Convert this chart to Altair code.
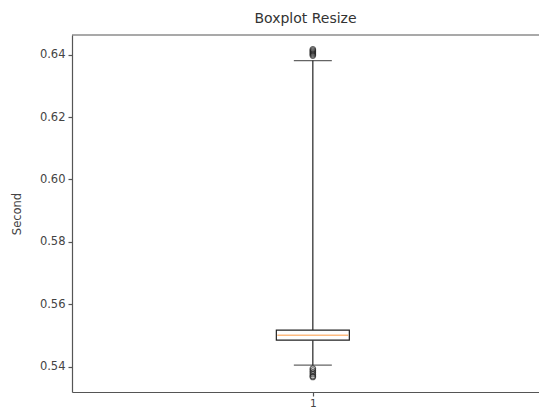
import altair as alt
import pandas as pd

# Box statistics
positions = [1]
q1 = [0.5485]
median = [0.5501]
q3 = [0.5517]
whisker_low = [0.5405]
whisker_high = [0.6381]

# Outliers (fliers)
outlier_values = [0.6397, 0.6401, 0.6405, 0.6409, 0.6413, 0.6417,
                  0.5394, 0.5388, 0.5382, 0.5376, 0.5370, 0.5367]

stats = pd.DataFrame({
    "pos": positions, "q1": q1, "median": median, "q3": q3,
    "lo": whisker_low, "hi": whisker_high,
})
fliers = pd.DataFrame({"pos": [positions[0]] * len(outlier_values), "value": outlier_values})

W, H = 467, 357
PX_PER_UNIT = 482
x_scale = alt.Scale(domain=[0.5, 0.5 + W / PX_PER_UNIT], nice=False, zero=False)
y_scale = alt.Scale(domain=[0.5319, 0.6463], nice=False, zero=False)

x_enc = alt.X("pos:Q", scale=x_scale,
              axis=alt.Axis(values=[1], format="d", title=None, grid=False,
                            labelFontSize=10.5, labelPadding=2))
y_axis = alt.Axis(values=[0.54, 0.56, 0.58, 0.60, 0.62, 0.64], format=".2f",
                  title="Second", grid=False)

base = alt.Chart(stats)
line_col = "#222222"
frame_col = "#555555"

whisk_low = base.mark_rule(color=line_col, strokeWidth=1.2).encode(
    x=x_enc, y=alt.Y("lo:Q", scale=y_scale, axis=y_axis), y2="q1:Q")
whisk_high = base.mark_rule(color=line_col, strokeWidth=1.2).encode(
    x=x_enc, y=alt.Y("q3:Q", scale=y_scale), y2="hi:Q")
cap_low = base.mark_tick(color=line_col, orient="horizontal", size=38, thickness=1.2).encode(
    x=x_enc, y=alt.Y("lo:Q", scale=y_scale))
cap_high = base.mark_tick(color=line_col, orient="horizontal", size=38, thickness=1.2).encode(
    x=x_enc, y=alt.Y("hi:Q", scale=y_scale))
box = base.mark_bar(size=73, fill="white", stroke=line_col, strokeWidth=1.2).encode(
    x=x_enc, y=alt.Y("q1:Q", scale=y_scale), y2="q3:Q")
med = base.mark_tick(color="#ff9f4a", orient="horizontal", size=71, thickness=1.5).encode(
    x=x_enc, y=alt.Y("median:Q", scale=y_scale))
pts = alt.Chart(fliers).mark_point(shape="circle", filled=False, color=line_col,
                                   size=30, strokeWidth=1.2).encode(
    x=x_enc, y=alt.Y("value:Q", scale=y_scale))
top_frame = base.mark_rule(color=frame_col, strokeWidth=1.2).encode(
    x=alt.value(0), x2=alt.value(W + 20), y=alt.value(0))

chart = alt.layer(whisk_low, whisk_high, cap_low, cap_high, box, med, pts, top_frame).properties(
    width=W, height=H,
    title=alt.Title("Boxplot Resize", fontSize=14, font="DejaVu Sans",
                    fontWeight="normal", color="#333333", offset=8),
    autosize=alt.AutoSizeParams(type="none"),
    padding={"left": 64, "top": 27, "right": 0, "bottom": 16},
).configure_view(stroke=None).configure_axis(
    domain=True, domainColor=frame_col, domainWidth=1.2,
    tickColor=frame_col, tickSize=4, tickWidth=1.2,
    labelFont="DejaVu Sans", labelFontSize=11.5, labelColor="#444444",
    titleFont="DejaVu Sans", titleFontSize=11.5, titleColor="#444444",
    titleFontWeight="normal", labelPadding=3,
).configure_axisY(titlePadding=17)

chart.save("out.html", embed_options={"renderer": "svg", "actions": False})
